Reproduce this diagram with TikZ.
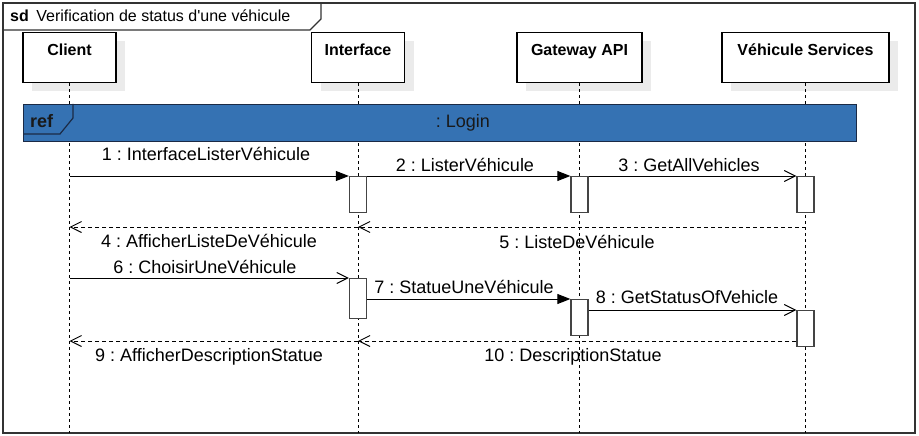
\documentclass[tikz,border=0pt]{standalone}
\usepackage{fontspec}
\setmainfont{Liberation Sans}[Ligatures=TeXOff]
\usetikzlibrary{arrows.meta}
\definecolor{shadowgrey}{HTML}{EBEBEB}
\definecolor{actgrey}{HTML}{444444}
\definecolor{refblue}{HTML}{3572B3}
\definecolor{refborder}{HTML}{1B2A45}
\definecolor{framegrey}{HTML}{333333}
\frenchspacing
\begin{document}
\begin{tikzpicture}[x=1pt,y=-1pt,
  font=\fontsize{18}{21}\selectfont,
  head/.style={draw=black, line width=1.2pt, fill=white, minimum width=#1, minimum height=50pt, inner sep=0pt, font=\fontsize{16}{19}\selectfont\bfseries, text height=11.5pt, text depth=16pt, anchor=north},
  shadowbox/.style={fill=shadowgrey, draw=none, minimum width=#1, minimum height=50pt, anchor=north, inner sep=0pt},
  lifeline/.style={line width=1pt, dash pattern=on 3pt off 3pt},
  act/.style={draw=actgrey, fill=white, line width=1.3pt, minimum width=17pt, minimum height=#1, inner sep=0pt, anchor=north},
  sync/.style={line width=1pt, -{Triangle[length=13pt,width=10pt]}},
  async/.style={line width=1pt, -{Straight Barb[length=11pt,width=11pt]}},
  reply/.style={async, dash pattern=on 4pt off 3pt},
  msg/.style={anchor=base, inner sep=0pt},
  frameline/.style={draw=framegrey, line width=1.4pt}
]
\useasboundingbox (0,0) rectangle (919,436);
% outer frame
\draw[frameline] (3,3) rectangle (915,433);
\draw[frameline] (3,30) -- (310,30) -- (321,19) -- (321,3);
\node[anchor=base west, inner sep=0pt, font=\fontsize{16}{19}\selectfont] (title) at (10,22) {{\bfseries sd}\hspace{7.5pt}Verification de status d'une véhicule};
% shadows
\node[shadowbox=93pt] (clientsh) at (78.5,41) {};
\node[shadowbox=93pt] (intsh) at (367,41) {};
\node[shadowbox=125pt] (gwsh) at (588.5,41) {};
\node[shadowbox=167pt] (vssh) at (814.5,41) {};
% heads
\node[head=93pt] (client) at (69.5,32) {Client};
\node[head=93pt] (int) at (358,32) {Interface};
\node[head=125pt] (gw) at (579.5,32) {Gateway API};
\node[head=167pt] (vs) at (805.5,32) {Véhicule Services};
% lifelines
\coordinate (clientend) at (69.5,433);
\coordinate (intend) at (358,433);
\coordinate (gwend) at (579.5,433);
\coordinate (vsend) at (805.5,433);
\draw[lifeline] (client.south) -- (clientend);
\draw[lifeline] (int.south) -- (intend);
\draw[lifeline] (gw.south) -- (gwend);
\draw[lifeline] (vs.south) -- (vsend);
% ref frame
\node[draw=refborder, fill=refblue, line width=1.3pt, minimum width=833pt, minimum height=37pt, anchor=north west, inner sep=0pt] (ref) at (23,104) {};
\coordinate (reftabend) at (23,134);
\draw[refborder, line width=1.2pt] (ref.north west) ++(50,0) -- ++(0,14) -- ++(-13,16) -- (reftabend);
\node[anchor=base west, inner sep=0pt, font=\fontsize{18}{21}\selectfont\bfseries, text=black!90] (reflabel) at (30,127) {ref};
\node[msg, text=black!90] (login) at (463,127) {: Login};
% activations
\node[act=36pt] (ai1) at (358,176) {};
\node[act=36pt] (ag1) at (579.5,176) {};
\node[act=36pt] (av1) at (805.5,176) {};
\node[act=40pt] (ai2) at (358,278) {};
\node[act=36pt] (ag2) at (579.5,299) {};
\node[act=36pt] (av2) at (805.5,310) {};
% messages
\coordinate (c1) at (69.5,176);
\draw[sync] (c1) -- (ai1.north west);
\draw[sync] (ai1.north east) -- (ag1.north west);
\draw[async] (ag1.north east) -- (av1.north west);
\coordinate (v5) at (805.5,227);
\coordinate (i5) at (358,227);
\coordinate (c4) at (69.5,227);
\draw[reply] (v5) -- (i5);
\draw[reply] (i5) -- (c4);
\coordinate (c6) at (69.5,278);
\draw[async] (c6) -- (ai2.north west);
\draw[sync] (ai2.east |- ag2.north) -- (ag2.north west);
\draw[async] (ag2.east |- av2.north) -- (av2.north west);
\coordinate (i10) at (358,341);
\coordinate (c9) at (69.5,341);
\draw[reply] (av2.west |- i10) -- (i10);
\draw[reply] (i10) -- (c9);
% labels
\node[msg] (l1) at (206,160) {1 : InterfaceListerVéhicule};
\node[msg] (l2) at (465,171) {2 : ListerVéhicule};
\node[msg] (l3) at (689,171) {3 : GetAllVehicles};
\node[msg] (l4) at (209,247) {4 : AfficherListeDeVéhicule};
\node[msg] (l5) at (577,248) {5 : ListeDeVéhicule};
\node[msg] (l6) at (205,273) {6 : ChoisirUneVéhicule};
\node[msg] (l7) at (464,293) {7 : StatueUneVéhicule};
\node[msg] (l8) at (687,303) {8 : GetStatusOfVehicle};
\node[msg] (l9) at (209,361) {9 : AfficherDescriptionStatue};
\node[msg] (l10) at (573,361) {10 : DescriptionStatue};
\end{tikzpicture}
\end{document}
